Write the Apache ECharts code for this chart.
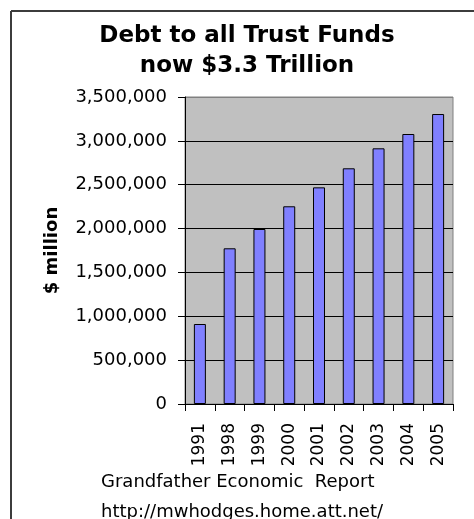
<!DOCTYPE html>
<html>
<head>
<meta charset="utf-8">
<script src="https://cdn.jsdelivr.net/npm/echarts@6/dist/echarts.min.js"></script>
<style>
  html, body { margin: 0; padding: 0; background: #fff; }
  #chart { width: 474px; height: 519px; }
</style>
</head>
<body>
<div id="chart"></div>
<script>
const years = ['1991', '1998', '1999', '2000', '2001', '2002', '2003', '2004', '2005'];
const debt = [912000, 1775000, 1995000, 2254000, 2470000, 2687000, 2915000, 3078000, 3306000];
const yTicks = { min: 0, max: 3500000, interval: 500000 };

const chart = echarts.init(document.getElementById('chart'));

// last split line is the top edge of the plot, drawn gray like the frame
const gridColors = ['#000', '#000', '#000', '#000', '#000', '#000', '#000', '#808080'];

const option = {
    backgroundColor: '#fff',
    animation: false,
    grid: {
        left: 185,
        right: 21,
        top: 97,
        bottom: 115,
        show: true,
        backgroundColor: '#c0c0c0',
        borderColor: '#808080',
        borderWidth: 1
    },
    xAxis: {
        type: 'category',
        data: years,
        axisLine: { lineStyle: { color: '#000', width: 1 } },
        axisTick: { show: true, length: 7, lineStyle: { color: '#000' } },
        axisLabel: {
            rotate: 90,
            margin: 19,
            color: '#000',
            fontFamily: 'DejaVu Sans',
            fontSize: 17
        }
    },
    yAxis: {
        type: 'value',
        min: yTicks.min,
        max: yTicks.max,
        interval: yTicks.interval,
        name: '$ million',
        nameLocation: 'middle',
        nameRotate: 90,
        nameGap: 124,
        nameTextStyle: {
            color: '#000',
            fontFamily: 'DejaVu Sans',
            fontWeight: 'bold',
            fontSize: 18
        },
        axisLine: { show: true, lineStyle: { color: '#000', width: 1 } },
        axisTick: { show: true, length: 7, lineStyle: { color: '#000' } },
        axisLabel: {
            margin: 18,
            color: '#000',
            fontFamily: 'DejaVu Sans',
            fontSize: 18,
            formatter: v => v.toLocaleString('en-US')
        },
        splitLine: { show: true, lineStyle: { color: gridColors, width: 1 } }
    },
    series: [{
        type: 'bar',
        data: debt,
        barWidth: 12,
        itemStyle: { color: '#8080ff', borderColor: '#000', borderWidth: 1 }
    }],
    graphic: [
        { type: 'line', shape: { x1: 11, y1: 11, x2: 474, y2: 11 }, style: { stroke: '#3c3c3c', lineWidth: 2 } },
        { type: 'line', shape: { x1: 11, y1: 11, x2: 11, y2: 519 }, style: { stroke: '#3c3c3c', lineWidth: 2 } },
        {
            type: 'text', x: 247, y: 36,
            style: { text: 'Debt to all Trust Funds', font: 'bold 23px "DejaVu Sans"', fill: '#000', textAlign: 'center', textVerticalAlign: 'middle' }
        },
        {
            type: 'text', x: 247, y: 66,
            style: { text: 'now $3.3 Trillion', font: 'bold 23px "DejaVu Sans"', fill: '#000', textAlign: 'center', textVerticalAlign: 'middle' }
        },
        {
            type: 'text', x: 101, y: 482,
            style: { text: 'Grandfather Economic  Report', font: '18px "DejaVu Sans"', fill: '#000', textAlign: 'left', textVerticalAlign: 'middle' }
        },
        {
            type: 'text', x: 101, y: 512,
            style: { text: 'http://mwhodges.home.att.net/', font: '18px "DejaVu Sans"', fill: '#000', textAlign: 'left', textVerticalAlign: 'middle' }
        }
    ]
};

chart.setOption(option);
</script>
</body>
</html>
